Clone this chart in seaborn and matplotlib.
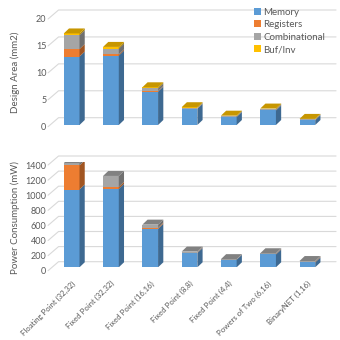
import matplotlib
matplotlib.use("Agg")
import matplotlib.pyplot as plt
import numpy as np
import seaborn as sns
from matplotlib.colors import to_rgb
from matplotlib.patches import Polygon
from matplotlib.transforms import ScaledTranslation

categories = [
    "Floating Point (32,32)",
    "Fixed Point (32,32)",
    "Fixed Point (16,16)",
    "Fixed Point (8,8)",
    "Fixed Point (4,4)",
    "Powers of Two (6,16)",
    "BinaryNET (1,16)",
]
components = ["Memory", "Registers", "Combinational", "Buf/Inv"]

# Design area (mm2)
area_memory = [12.7, 12.9, 6.2, 3.0, 1.5, 2.7, 0.9]
area_registers = [1.4, 0.2, 0.1, 0.05, 0.03, 0.05, 0.03]
area_comb = [2.6, 1.1, 0.5, 0.1, 0.08, 0.15, 0.1]
area_buf = [0.3, 0.3, 0.2, 0.15, 0.12, 0.15, 0.1]

# Power consumption (mW)
power_memory = [1030, 1040, 510, 190, 100, 170, 65]
power_registers = [320, 25, 15, 6, 2, 6, 8]
power_comb = [30, 145, 40, 12, 6, 10, 10]
power_buf = [0, 0, 0, 0, 0, 0, 0]

colors = ["#5B9BD5", "#ED7D31", "#A5A5A5", "#FFC000"]
text_gray = "#595959"
grid_gray = "#D9D9D9"


def shade(c, f):
    return tuple(v * f for v in to_rgb(c))


sns.set_theme(style="white")
plt.rcParams["font.family"] = ["Lato", "DejaVu Sans"]

fig = plt.figure(figsize=(3.4, 3.4), dpi=100)
W = H = 340.0
left_px, right_px = 52, 327
# axes boxes: bottom = bar floor, top = max value
ax1 = fig.add_axes([left_px / W, 1 - 125.0 / H, (right_px - left_px) / W, 107.7 / H])
ax2 = fig.add_axes([left_px / W, 1 - 267.3 / H, (right_px - left_px) / W, 105.7 / H])

XLIM = (-0.6, 6.73)
BAR_W = 0.4


def draw_panel(ax, series, ymax, ystep, ylabel, label_drop):
    vals = np.array(series, dtype=float)
    cum = np.cumsum(vals, axis=0)
    bottoms = np.vstack([np.zeros(len(categories)), cum[:-1]])
    ax.set_xlim(*XLIM)
    ax.set_ylim(0, ymax)

    pos = ax.get_position()
    px_x = (XLIM[1] - XLIM[0]) / (pos.width * W)
    px_y = ymax / (pos.height * H)

    # back-wall gridlines with perspective offset
    gx, gy = 10 * px_x, (9.0 - label_drop) * px_y
    ld = label_drop * px_y
    for v in np.arange(0, ymax + ystep / 2, ystep):
        ax.plot([XLIM[0], XLIM[0] + gx, XLIM[1]], [v - ld, v + gy, v + gy],
                color=grid_gray, lw=0.8, zorder=0, clip_on=False)

    # front faces: overlay cumulative sums, tallest first
    for i in range(len(components) - 1, -1, -1):
        sns.barplot(x=categories, y=cum[i], order=categories, color=colors[i],
                    width=BAR_W, saturation=1, ax=ax, zorder=3, linewidth=0)

    # side and top faces
    dx, dy = 5 * px_x, 5 * px_y
    for j in range(len(categories)):
        xr = j + BAR_W / 2
        xl = j - BAR_W / 2
        top_idx = 0
        for i in range(len(components)):
            if vals[i, j] <= 0:
                continue
            top_idx = i
            b, t = bottoms[i, j], cum[i, j]
            ax.add_patch(Polygon([(xr, b), (xr + dx, b + dy), (xr + dx, t + dy), (xr, t)],
                                 closed=True, fc=shade(colors[i], 0.68), ec="none", zorder=4))
        T = cum[-1, j]
        ax.add_patch(Polygon([(xl, T), (xl + dx, T + dy), (xr + dx, T + dy), (xr, T)],
                             closed=True, fc=shade(colors[top_idx], 0.78), ec="none", zorder=4))

    ax.set_yticks(np.arange(0, ymax + ystep / 2, ystep))
    ax.tick_params(axis="y", length=0, labelsize=6.5, labelcolor=text_gray, pad=4)
    drop = ScaledTranslation(0, -label_drop / 100, fig.dpi_scale_trans)
    for lab in ax.get_yticklabels():
        lab.set_transform(lab.get_transform() + drop)
    ax.set_ylabel(ylabel, fontsize=7, color=text_gray, labelpad=4)
    ax.set_xlabel("")
    sns.despine(ax=ax, left=True, bottom=True)


draw_panel(ax1, [area_memory, area_registers, area_comb, area_buf], 20, 5,
           "Design Area (mm2)", 1.7)
draw_panel(ax2, [power_memory, power_registers, power_comb, power_buf], 1400, 200,
           "Power Consumption (mW)", 3.4)

ax1.set_xticks(range(len(categories)))
ax1.set_xticklabels([])
ax1.tick_params(axis="x", length=0)

ax2.set_xticks(range(len(categories)))
ax2.set_xticklabels(categories, rotation=45, ha="right", rotation_mode="anchor",
                    fontsize=5.6, color=text_gray)
ax2.tick_params(axis="x", length=0, pad=9)

ax1.yaxis.set_label_coords(-0.118, 0.49)
ax2.yaxis.set_label_coords(-0.118, 0.47)

handles = [plt.Rectangle((0, 0), 1, 1, fc=c, ec="none") for c in colors]
fig.legend(handles, components, loc="upper left", bbox_to_anchor=(250 / W, 1 - 4 / H),
           frameon=False, fontsize=7, labelcolor=text_gray, handlelength=0.7,
           handleheight=0.7, handletextpad=0.3, labelspacing=0.35, borderaxespad=0)

fig.savefig("out.png", dpi=100)
